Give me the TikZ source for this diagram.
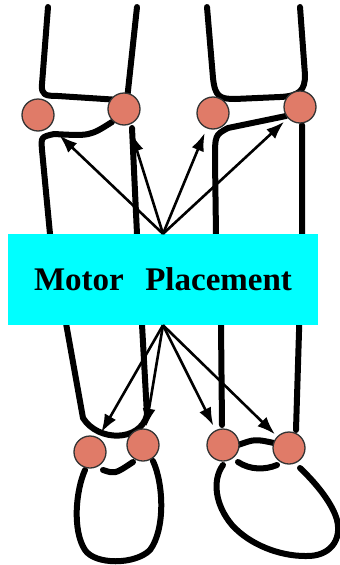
\documentclass[tikz,border=0pt]{standalone}
\usepackage{fontspec}
\setmainfont{Liberation Serif}
\usepackage{xcolor}
\usepackage{tikz}
\usetikzlibrary{arrows.meta}

\definecolor{motorred}{HTML}{E07B68}
\definecolor{boxcyan}{HTML}{00FFFF}

\begin{document}
\begin{tikzpicture}[x=1pt,y=-1pt,
    limb/.style={line width=6pt,line cap=round,line join=round},
    motor/.style={circle,draw=black!80,line width=1.3pt,fill=motorred,minimum size=32pt,inner sep=0pt},
    placebox/.style={rectangle,fill=boxcyan,minimum width=310pt,minimum height=91pt,inner sep=0pt,
        font=\bfseries\fontsize{33}{40}\selectfont},
    motorarrow/.style={line width=2.6pt,-{Latex[length=18pt,width=13pt]}}]
    \useasboundingbox (0,0) rectangle (340,565);

    % left leg
    \draw[limb] (48,7) -- (42,84) .. controls (41,95) and (45,96) .. (58,96) -- (120,100);
    \draw[limb] (137,7) -- (127,100);
    \draw[limb] (132,128) -- (137,234) -- (147,415) .. controls (140,442) and (98,442) .. (83,418)
        -- (50,234) -- (42,150) .. controls (41,137) .. (54,134) .. controls (90,136) .. (112,122);
    \draw[limb] (103,470) .. controls (115,474) .. (133,462);
    \draw[limb] (85,470) .. controls (76,490) and (72,530) .. (85,550)
        .. controls (95,565) and (135,565) .. (150,550) .. controls (165,530) and (164,485) .. (153,461);

    % right leg
    \draw[limb] (207,7) -- (213,78) .. controls (215,97) and (220,99) .. (235,99) -- (280,97)
        .. controls (300,96) and (305,90) .. (305,75) -- (300,7);
    \draw[limb] (222,425) -- (221,325) -- (216,234) -- (215,160) .. controls (215,135) .. (228,128) -- (286,116);
    \draw[limb] (302,125) -- (302,234) -- (296,430);
    \draw[limb] (238,445) .. controls (255,439) .. (274,443);
    \draw[limb] (238,462) .. controls (250,470) and (265,470) .. (277,465);
    \draw[limb] (223,465) .. controls (212,480) and (215,505) .. (232,525)
        .. controls (250,545) and (280,556) .. (305,556) .. controls (330,557) and (342,540) .. (337,520)
        .. controls (333,505) and (318,485) .. (300,468);

    \node[placebox] (place) at (163,279.5) {Motor\hspace{0.4em} Placement};

    \node[motor] (lk1) at (38,115) {};
    \node[motor] (lk2) at (124,109) {};
    \node[motor] (rk1) at (213,113) {};
    \node[motor] (rk2) at (300,107) {};
    \node[motor] (la1) at (90,452) {};
    \node[motor] (la2) at (143,445) {};
    \node[motor] (ra1) at (223,445) {};
    \node[motor] (ra2) at (289,448) {};

    \draw[motorarrow,shorten >=13pt] (place.north) -- (lk1);
    \draw[motorarrow,shorten >=9pt] (place.north) -- (lk2);
    \draw[motorarrow,shorten >=5pt] (place.north) -- (rk1);
    \draw[motorarrow,shorten >=5pt] (place.north) -- (rk2);
    \draw[motorarrow,shorten >=6pt] (place.south) -- (la1);
    \draw[motorarrow,shorten >=2pt] (place.south) -- (la2);
    \draw[motorarrow,shorten >=5pt] (place.south) -- (ra1);
    \draw[motorarrow,shorten >=3pt] (place.south) -- (ra2);
\end{tikzpicture}
\end{document}
